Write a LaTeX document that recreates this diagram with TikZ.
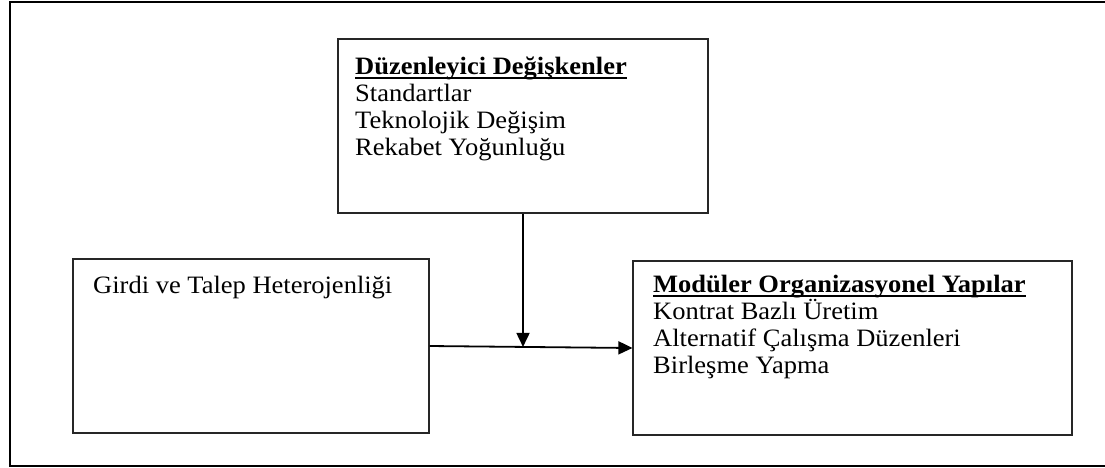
\documentclass[tikz,border=0pt]{standalone}
\usepackage{fontspec}
\setmainfont{Liberation Serif}[FakeStretch=1.06]
\usetikzlibrary{arrows.meta,calc}
\tikzset{
  box/.style={draw=black!85, line width=1.2pt, inner sep=0pt, minimum height=174pt},
  txt/.style={anchor=base west, inner sep=0pt, font=\fontsize{25}{27}\selectfont},
  ttl/.style={txt, font=\fontsize{25}{27}\selectfont\bfseries},
  arr/.style={line width=1.8pt, -{Triangle[length=14pt,width=13pt]}},
  uline/.style={line width=2pt}
}
\begin{document}
\begin{tikzpicture}[x=1pt,y=-1pt]
\useasboundingbox (0,0) rectangle (1105,467);
\clip (0,0) rectangle (1105,467);
% outer frame
\draw[line width=2pt] (10,2) rectangle (1115,466);
% boxes
\node[box, minimum width=370pt] (top) at (523,126) {};
\node[box, minimum width=356pt] (left) at (251,346) {};
\node[box, minimum width=439pt] (right) at (852.5,348) {};
% top box text
\node[ttl] (t0) at (355,74) {Düzenleyici Değişkenler};
\draw[uline] ($(t0.base west)+(0,4)$) -- ($(t0.base east)+(0,4)$);
\node[txt] (t1) at (355,101) {Standartlar};
\node[txt] (t2) at (355,128) {Teknolojik Değişim};
\node[txt] (t3) at (355,155) {Rekabet Yoğunluğu};
% left box text
\node[txt] (l0) at (93,293) {Girdi ve Talep Heterojenliği};
% right box text
\node[ttl] (r0) at (653,292) {Modüler Organizasyonel Yapılar};
\draw[uline] ($(r0.base west)+(0,4)$) -- ($(r0.base east)+(0,4)$);
\node[txt] (r1) at (653,319) {Kontrat Bazlı Üretim};
\node[txt] (r2) at (653,346) {Alternatif Çalışma Düzenleri};
\node[txt] (r3) at (653,373) {Birleşme Yapma};
% connectors
\draw[arr] (left.east) -- (right.west);
\coordinate (j) at ($(left.east)!0.463!(right.west)$);
\draw[arr] (top.south) -- (top.south |- j);
\end{tikzpicture}
\end{document}
